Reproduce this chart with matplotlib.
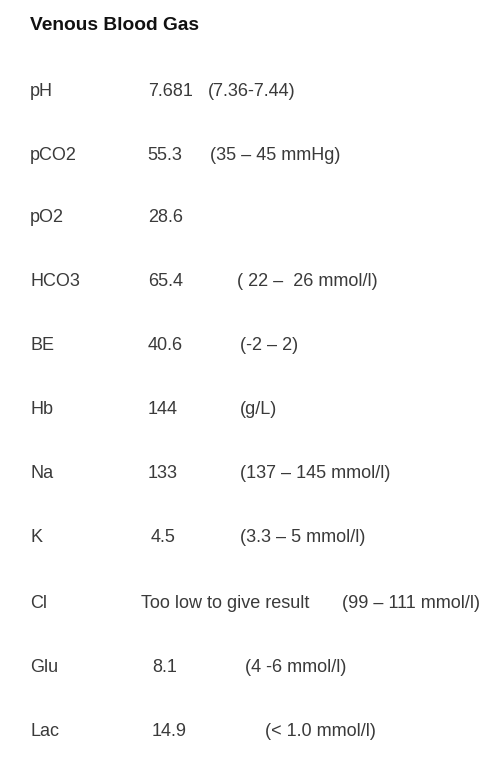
import matplotlib
matplotlib.use("Agg")
import matplotlib.pyplot as plt

title = "Venous Blood Gas"
labels = ["pH", "pCO2", "pO2", "HCO3", "BE", "Hb", "Na", "K", "Cl", "Glu", "Lac"]
values = ["7.681", "55.3", "28.6", "65.4", "40.6", "144", "133", "4.5",
          "Too low to give result", "8.1", "14.9"]
ranges = ["(7.36-7.44)", "(35 \u2013 45 mmHg)", "", "( 22 \u2013  26 mmol/l)", "(-2 \u2013 2)",
          "(g/L)", "(137 \u2013 145 mmol/l)", "(3.3 \u2013 5 mmol/l)", "(99 \u2013 111 mmol/l)",
          "(4 -6 mmol/l)", "(< 1.0 mmol/l)"]
row_y = [92, 155, 218, 282, 346, 410, 473, 538, 603, 667, 731]
val_x = [148, 147, 148, 148, 148, 148, 148, 151, 141, 152, 152]
rng_x = [208, 210, 0, 237, 240, 240, 240, 240, 342, 245, 265]

W, H = 500, 759
fig = plt.figure(figsize=(W/100, H/100), dpi=100)
ax = fig.add_axes([0, 0, 1, 1])
ax.set_xlim(0, W); ax.set_ylim(H, 0); ax.axis("off")
fam = ["Liberation Sans", "DejaVu Sans"]
col = "#3a3a3a"
ax.text(30, 25, title, fontsize=13.8, fontweight="bold", family=fam, color="#111111", va="center")
for lab, v, r, y, vx, rx in zip(labels, values, ranges, row_y, val_x, rng_x):
    ax.text(30, y, lab, fontsize=13, family=fam, color=col, va="center")
    ax.text(vx, y, v, fontsize=13, family=fam, color=col, va="center")
    if r:
        ax.text(rx, y, r, fontsize=13, family=fam, color=col, va="center")
fig.savefig("out.png", dpi=100, facecolor="white")
